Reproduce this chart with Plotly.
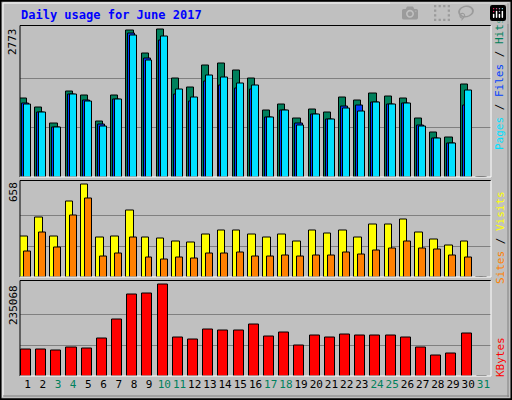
import plotly.graph_objects as go

days = list(range(1, 32))
hits = [1474,1305,1004,1612,1531,1041,1531,2754,2321,2773,1851,1681,2095,2133,2001,1851,1249,1361,1098,1267,1211,1493,1437,1568,1512,1474,1098,834,740,1738,0]
files = [1380,1211,929,1550,1437,985,1456,2698,2227,2566,1550,1418,1794,1719,1663,1644,1117,1249,1004,1173,1079,1324,1343,1399,1361,1380,966,722,627,1343,0]
pages = [1361,1211,929,1550,1418,947,1456,2660,2190,2641,1644,1493,1907,1870,1757,1719,1117,1249,966,1173,1079,1286,1230,1399,1361,1380,947,722,627,1625,0]
visits = [286,422,286,536,658,279,286,472,279,272,250,243,300,329,329,300,279,300,250,329,308,329,279,372,372,408,315,265,222,250,0]
sites = [179,315,207,436,558,143,164,279,136,122,136,129,164,164,172,143,143,150,143,150,150,172,157,186,200,250,200,193,150,136,0]
kbytes = [67775,67775,65200,72922,70348,96085,144985,209328,211902,235068,98659,93511,119248,116674,116674,132117,101232,111527,78069,103806,98659,106380,103806,103806,103806,98659,72922,52332,57479,108953,0]
weekend = {3,4,10,11,17,18,24,25,31}
tick_text = [f'<span style="color:#00805C">{d}</span>' if d in weekend else str(d) for d in days]
max_hits, max_visits, max_kb = 2773, 658, 235068

GRAY = "#C0C0C0"
fig = go.Figure()
line = dict(color="black", width=1)
def bar(y, color, off, w, ax):
    fig.add_trace(go.Bar(x=days, y=y, offset=off, width=w, marker=dict(color=color, line=line),
                         xaxis=ax[0], yaxis=ax[1], showlegend=False, hoverinfo="skip"))
bar(hits, "#00805C", -0.5, 0.47, ("x", "y"))
bar(files, "#0040FF", -0.37, 0.47, ("x", "y"))
bar(pages, "#00E0FF", -0.24, 0.46, ("x", "y"))
bar(visits, "#FFFF00", -0.5, 0.5, ("x2", "y2"))
bar(sites, "#FF8000", -0.24, 0.46, ("x2", "y2"))
bar(kbytes, "#FF0000", -0.44, 0.66, ("x3", "y3"))

xd = [20/512, 491/512]
def yd(t, b): return [1 - b/400, 1 - t/400]
xcommon = dict(range=[0.5, 31.5], domain=xd, showgrid=False, zeroline=False, fixedrange=True)
fig.update_layout(
    width=512, height=400, margin=dict(l=0, r=0, t=0, b=0),
    paper_bgcolor=GRAY, plot_bgcolor=GRAY, barmode="overlay", bargap=0,
    font=dict(family="DejaVu Sans Mono", size=11, color="black"),
    xaxis=dict(**xcommon, anchor="y", showticklabels=False),
    xaxis2=dict(**xcommon, anchor="y2", showticklabels=False),
    xaxis3=dict(**xcommon, anchor="y3", tickvals=days, ticktext=tick_text, ticks="", tickangle=0,
                automargin=False, tickfont=dict(family="DejaVu Sans Mono", size=11)),
)
def yax(mx, top, dom):
    return dict(domain=dom, range=[0, top], tickvals=[mx/3, 2*mx/3], showticklabels=False,
                gridcolor="#808080", gridwidth=1, zeroline=False, fixedrange=True)
fig.update_layout(
    yaxis=yax(max_hits, max_hits*453/442, yd(25.5, 177)),
    yaxis2=yax(max_visits, max_visits*287/276, yd(180.5, 277)),
    yaxis3=yax(max_kb, max_kb*285/274, yd(280.5, 376)),
)
shapes = []
for t, b in [(25.5, 177), (180.5, 277), (280.5, 376)]:
    y0, y1 = 1 - b/400, 1 - t/400
    shapes.append(dict(type="line", xref="paper", yref="paper", x0=xd[0], x1=xd[0], y0=y0, y1=y1, line=dict(color="black", width=1)))
    shapes.append(dict(type="line", xref="paper", yref="paper", x0=xd[0], x1=xd[1], y0=y1, y1=y1, line=dict(color="black", width=1)))
    shapes.append(dict(type="line", xref="paper", yref="paper", x0=xd[1], x1=xd[1], y0=y0, y1=y1, line=dict(color="white", width=1)))
    shapes.append(dict(type="line", xref="paper", yref="paper", x0=xd[0], x1=xd[1], y0=y0, y1=y0, line=dict(color="white", width=1)))
shapes.append(dict(type="rect", xref="paper", yref="paper", x0=0.001, x1=0.999, y0=0.002, y1=0.998, line=dict(color="black", width=2)))
shapes.append(dict(type="line", xref="paper", yref="paper", x0=3/512, x1=509/512, y0=1-3/400, y1=1-3/400, line=dict(color="white", width=1)))
shapes.append(dict(type="line", xref="paper", yref="paper", x0=3/512, x1=3/512, y0=1-397/400, y1=1-3/400, line=dict(color="white", width=1)))
shapes.append(dict(type="line", xref="paper", yref="paper", x0=508/512, x1=508/512, y0=1-397/400, y1=1-3/400, line=dict(color="#808080", width=1)))
shapes.append(dict(type="line", xref="paper", yref="paper", x0=3/512, x1=509/512, y0=1-396/400, y1=1-396/400, line=dict(color="#808080", width=1)))
fig.update_layout(shapes=shapes)

def ann(text, x, y, color="black", angle=-90, size=11, bold=False, xa="center", ya="middle"):
    return dict(text=f"<b>{text}</b>" if bold else text, x=x/512, y=1-y/400, xref="paper", yref="paper",
                showarrow=False, textangle=angle, font=dict(color=color, size=size, family="DejaVu Sans Mono"),
                xanchor=xa, yanchor=ya)
fig.update_layout(annotations=[
    ann("Daily usage for June 2017", 19, 15, color="#0000FF", angle=0, size=12, bold=True, xa="left"),
    ann(str(max_hits), 13, 42),
    ann(str(max_visits), 13, 192),
    ann(str(max_kb), 13, 305),
    ann('<span style="color:#00E0FF">Pages</span> / <span style="color:#0040FF">Files</span> / <span style="color:#00805C">Hits</span>', 500, 84),
    ann('<span style="color:#FF8000">Sites</span> / <span style="color:#FFFF00">Visits</span>', 500, 238),
    ann('KBytes', 500, 357, color="#FF0000"),
])
fig.write_html("out.html", post_script="document.body.style.margin='0';document.body.style.overflow='hidden';")
